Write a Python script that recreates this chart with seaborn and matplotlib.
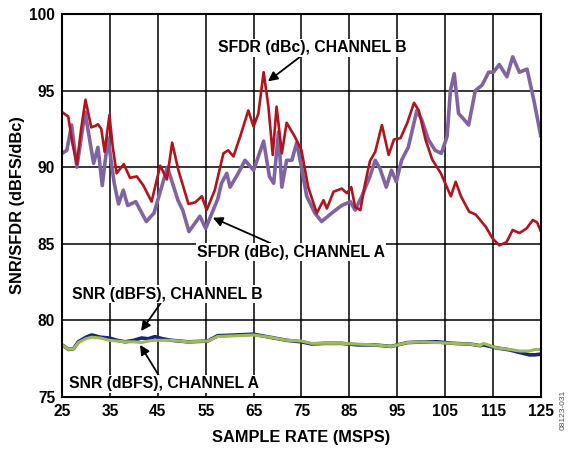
import matplotlib
matplotlib.use("Agg")
import matplotlib.pyplot as plt
import seaborn as sns
import pandas as pd

# SFDR channel B (red)
sfdr_b_x = [25, 26.3, 27.2, 28.1, 29.0, 29.9, 31.1, 32.0, 32.5, 33.2, 33.9, 34.9, 35.6, 36.4,
            37.9, 39.2, 40.6, 42.0, 43.7, 45.5, 46.9, 48.0, 49.3, 51.4, 52.8, 54.2, 55.2,
            56.9, 58.7, 59.7, 60.8, 62.2, 63.9, 65.0, 66.0, 67.1, 68.1, 69.0, 69.8, 70.9,
            71.9, 73.6, 75.0, 76.4, 78.2, 79.6, 80.3, 81.7, 83.4, 84.5, 85.4, 86.2, 87.3,
            88.3, 89.3, 90.4, 91.8, 93.2, 94.3, 95.7, 97.1, 98.5, 99.5, 100.9, 102.3,
            104.1, 106.2, 107.2, 108.3, 110.0, 111.4, 113.5, 114.9, 116.3, 117.8, 119.1,
            120.5, 122.0, 123.3, 124.2, 125]
sfdr_b = [93.6, 93.3, 91.5, 90.2, 92.5, 94.4, 92.6, 92.7, 92.8, 92.5, 91.0, 93.4, 91.3, 89.6,
          90.2, 89.3, 89.4, 88.8, 87.75, 90.1, 89.2, 91.6, 89.8, 87.6, 87.7, 88.1, 87.2,
          88.5, 90.9, 91.1, 90.7, 92.0, 93.7, 92.65, 93.5, 96.2, 93.95, 90.8, 93.95, 90.9,
          92.9, 92.0, 91.1, 88.7, 87.0, 87.85, 87.3, 88.4, 88.6, 88.3, 88.7, 87.4, 87.2,
          88.95, 90.4, 91.0, 92.75, 90.8, 91.8, 91.9, 92.9, 94.2, 93.7, 91.8, 90.5,
          89.6, 88.1, 89.05, 88.1, 87.1, 86.9, 86.1, 85.35, 84.9, 85.1, 85.9,
          85.7, 86.0, 86.55, 86.4, 85.8]

# SFDR channel A (purple)
sfdr_a_x = [25, 26.0, 27.0, 28.1, 29.8, 31.6, 32.5, 33.4, 34.6, 35.9, 36.8, 37.8, 38.7, 40.4,
            42.6, 44.2, 47.0, 49.2, 50.2, 51.5, 53.8, 55.0, 56.3, 57.5, 58.3, 59.4, 60.1,
            61.8, 63.2, 65.0, 67.1, 68.3, 69.2, 70.2, 70.9, 71.9, 73.0, 74.0, 75.0, 76.1,
            77.8, 79.2, 81.3, 83.4, 85.2, 86.2, 87.6, 89.3, 90.4, 91.4, 92.7, 93.8, 94.8,
            95.9, 97.3, 99.1, 100.1, 101.5, 102.9, 104.2, 105.4, 106.1, 106.9, 107.8,
            108.7, 109.9, 111.3, 112.7, 114.1, 115.1, 116.3, 117.9, 119.1, 120.5, 122.1,
            123.5, 125]
sfdr_a = [90.9, 91.1, 92.75, 90.0, 93.6, 90.25, 91.3, 88.8, 91.9, 88.95, 87.6, 88.5, 87.5, 87.75,
          86.45, 87.0, 90.0, 87.85, 87.2, 85.8, 86.8, 86.0, 87.0, 87.9, 88.95, 89.6, 88.7,
          89.6, 90.45, 89.8, 91.7, 89.4, 88.95, 92.3, 88.7, 90.45, 90.45, 91.6, 90.0, 88.1,
          87.0, 86.45, 87.0, 87.5, 87.75, 87.2, 88.1, 89.4, 90.45, 89.9, 88.7, 89.8, 89.05,
          90.45, 91.3, 93.7, 93.1, 91.8, 91.1, 90.9, 92.0, 95.0, 96.1, 93.5,
          93.2, 92.75, 95.0, 95.35, 96.2, 96.2, 96.7, 95.9, 97.2, 96.2, 96.4,
          94.4, 92.0]

# SNR, both channels
snr_x = [25, 26.4, 27.4, 28.4, 30, 31.2, 33, 34.9, 36.5, 38.2, 40, 41.6, 43, 44.4, 46, 47.9,
         51.3, 55.4, 57.5, 61.6, 65, 68.4, 71.9, 75, 77.1, 79.9, 83.3, 86.8, 90.2, 93.7,
         97.1, 100.6, 103.3, 106.8, 110.3, 112.3, 113.0, 115.8, 118.5, 120.6, 122.6, 123.7, 125]
snr_b = [78.4, 78.1, 78.15, 78.6, 78.9, 79.05, 78.9, 78.85, 78.7, 78.6, 78.7, 78.85, 78.8, 78.94,
         78.8, 78.7, 78.6, 78.65, 79.0, 79.05, 79.1, 78.9, 78.7, 78.6, 78.46, 78.5, 78.5, 78.4,
         78.4, 78.3, 78.55, 78.6, 78.6, 78.5, 78.45, 78.35, 78.4, 78.2, 78.07, 77.9, 77.75,
         77.75, 77.8]
snr_a = [78.4, 78.1, 78.15, 78.55, 78.8, 78.9, 78.85, 78.7, 78.65, 78.6, 78.6, 78.55, 78.65, 78.7,
         78.7, 78.7, 78.6, 78.65, 78.95, 79.0, 79.05, 78.9, 78.7, 78.65, 78.5, 78.5, 78.5, 78.45,
         78.4, 78.3, 78.55, 78.6, 78.55, 78.5, 78.45, 78.35, 78.5, 78.2, 78.1, 78.0, 78.0,
         78.1, 78.1]

x_ticks = [25, 35, 45, 55, 65, 75, 85, 95, 105, 115, 125]
y_ticks = [75, 80, 85, 90, 95, 100]

sns.set_style("white")
plt.rcParams['font.family'] = ['Liberation Sans', 'DejaVu Sans']
plt.rcParams['font.weight'] = 'bold'
plt.rcParams['text.color'] = 'black'
plt.rcParams['axes.labelcolor'] = 'black'
plt.rcParams['xtick.color'] = 'black'
plt.rcParams['ytick.color'] = 'black'

fig = plt.figure(figsize=(5.7, 4.5), dpi=100)
ax = fig.add_axes([0.1088, 0.1178, 0.8402, 0.8512])

df_b = pd.DataFrame({"x": sfdr_b_x, "y": sfdr_b})
df_a = pd.DataFrame({"x": sfdr_a_x, "y": sfdr_a})
df_snr = pd.DataFrame({"x": snr_x, "a": snr_a, "b": snr_b})

joins = dict(solid_joinstyle="round", solid_capstyle="round")
sns.lineplot(data=df_a, x="x", y="y", ax=ax, color="#8064A2", lw=2.6, **joins)
sns.lineplot(data=df_b, x="x", y="y", ax=ax, color="#B5121B", lw=1.9, **joins)
sns.lineplot(data=df_snr, x="x", y="b", ax=ax, color="#1A237E", lw=2.6, **joins)
sns.lineplot(data=df_snr, x="x", y="a", ax=ax, color="#9BBB59", lw=2.2, **joins)

ax.set_xlim(25, 125)
ax.set_ylim(75, 100)
ax.set_xticks(x_ticks)
ax.set_yticks(y_ticks)
ax.grid(True, color="black", lw=1.1)
for s in ax.spines.values():
    s.set_color("black")
    s.set_linewidth(1.5)
ax.tick_params(axis="both", labelsize=11.2, length=0, pad=5)
for lab in ax.get_xticklabels() + ax.get_yticklabels():
    lab.set_fontweight("bold")
ax.set_xlabel("SAMPLE RATE (MSPS)", fontsize=11.8, fontweight="bold", labelpad=8)
ax.set_ylabel("SNR/SFDR (dBFS/dBc)", fontsize=11.8, fontweight="bold", labelpad=3)

box = dict(facecolor="white", edgecolor="none", pad=1)
arrow = dict(arrowstyle="-|>", color="black", lw=1.3, mutation_scale=14, shrinkA=0, shrinkB=0)
fs = 11.3
ax.annotate("SFDR (dBc), CHANNEL B", xy=(68.0, 95.6), xytext=(77.2, 97.8),
            ha="center", va="center", fontsize=fs, fontweight="bold", bbox=box,
            arrowprops=arrow)
ax.annotate("SFDR (dBc), CHANNEL A", xy=(56.5, 86.7), xytext=(72.8, 84.45),
            ha="center", va="center", fontsize=fs, fontweight="bold", bbox=box,
            arrowprops=arrow)
ax.annotate("SNR (dBFS), CHANNEL B", xy=(41.5, 79.3), xytext=(46.9, 81.7),
            ha="center", va="center", fontsize=fs, fontweight="bold", bbox=box,
            arrowprops=arrow)
ax.annotate("SNR (dBFS), CHANNEL A", xy=(41.3, 78.4), xytext=(46.3, 75.85),
            ha="center", va="center", fontsize=fs, fontweight="bold", bbox=box,
            arrowprops=arrow)

fig.text(0.988, 0.09, "08123-031", rotation=90, fontsize=6, color="#555555",
         fontweight="normal", ha="center", va="center")

fig.savefig("out.png", dpi=100)
